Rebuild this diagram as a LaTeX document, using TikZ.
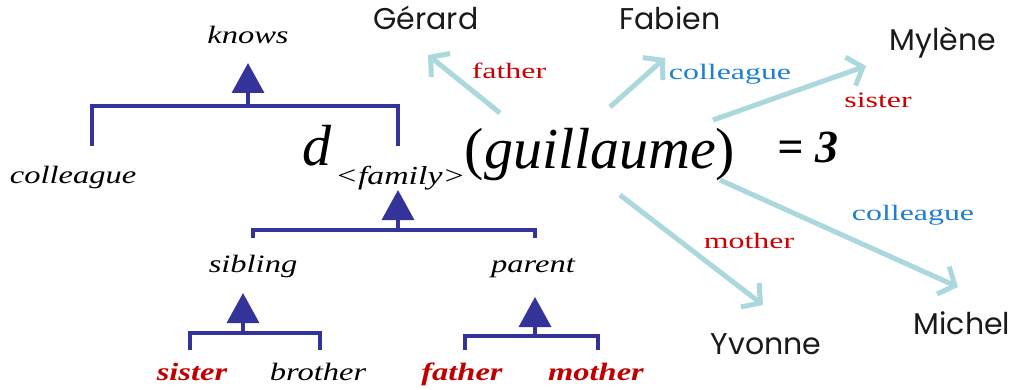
\documentclass[tikz,border=0pt]{standalone}
\usepackage{fontspec}
\usetikzlibrary{arrows.meta}
\setmainfont{Liberation Serif}
\newfontfamily\treefont[FakeStretch=1.3]{Liberation Serif}
\newfontfamily\lblfont[FakeStretch=1.45]{Liberation Serif}
\newfontfamily\namefont{Poppins}
\definecolor{treeblue}{HTML}{333399}
\definecolor{arrcyan}{HTML}{ABD8DC}
\definecolor{lblred}{HTML}{CC0000}
\definecolor{lblblue}{HTML}{1E7FD2}
\definecolor{boldred}{HTML}{C00000}
\definecolor{namegray}{HTML}{1A1A1A}
\tikzset{
  treelbl/.style={anchor=base, inner sep=0pt, font=\treefont\itshape\fontsize{25}{25}\selectfont},
  leafred/.style={anchor=base, inner sep=0pt, text=boldred, font=\treefont\bfseries\itshape\fontsize{25}{25}\selectfont},
  person/.style={anchor=base, inner sep=0pt, text=namegray, font=\namefont\fontsize{30}{30}\selectfont},
  rel/.style={anchor=base, inner sep=0pt, font=\lblfont\fontsize{22}{22}\selectfont},
  branch/.style={draw=treeblue, line width=3.5pt},
  up/.style={draw=treeblue, line width=3.5pt, -{Triangle[length=30pt,width=32pt]}},
  link/.style={draw=arrcyan, line width=5pt, -{Straight Barb[length=13pt,width=30pt,line width=5pt]}}
}
\begin{document}
\begin{tikzpicture}[x=1pt,y=-1pt]
\useasboundingbox (0,0) rectangle (1016,390);
% formula
\node[anchor=base, inner sep=0pt, font=\itshape\fontsize{58}{58}\selectfont] (d) at (317,166) {d};
\node[treelbl, anchor=base west, font=\treefont\itshape\fontsize{26}{26}\selectfont] (fam) at (335,184) {<family>};
\node[anchor=base, inner sep=0pt, font=\fontsize{58}{58}\selectfont] (guil) at (600,168) {(\textit{guillaume})};
\node[anchor=base, inner sep=0pt, font=\bfseries\itshape\fontsize{46}{46}\selectfont] (eq) at (808,163) {= 3};
% tree labels
\node[treelbl] (knows) at (248,44) {knows};
\node[treelbl] (coll) at (73,183) {colleague};
\node[treelbl] (sib) at (253,272) {sibling};
\node[treelbl] (par) at (533,272) {parent};
\node[leafred] (sister) at (192,380) {sister};
\node[treelbl] (brother) at (318,380) {brother};
\node[leafred] (father) at (462,380) {father};
\node[leafred] (mother) at (596,380) {mother};
% tree branches
\coordinate (k1) at (92,146); \coordinate (k2) at (398,146);
\draw[branch] (k1) -- (92,106) -- (398,106) -- (k2);
\draw[up] (248,106) -- (knows.south |- 0,63);
\coordinate (f1) at (253,238); \coordinate (f2) at (535,238);
\draw[branch] (f1) -- (253,230) -- (535,230) -- (f2);
\draw[up] (398,230) -- (398,190);
\coordinate (s1) at (190,350); \coordinate (s2) at (320,350);
\draw[branch] (s1) -- (190,333) -- (320,333) -- (s2);
\draw[up] (243,333) -- (243,293);
\coordinate (p1) at (465,350); \coordinate (p2) at (598,350);
\draw[branch] (p1) -- (465,336) -- (598,336) -- (p2);
\draw[up] (535,336) -- (535,297);
% people
\node[person] (gerard) at (426,30) {Gérard};
\node[person] (fabien) at (670,30) {Fabien};
\node[person] (mylene) at (943,51) {Mylène};
\node[person] (michel) at (962,334) {Michel};
\node[person] (yvonne) at (766,354) {Yvonne};
% arrows
\coordinate (a1s) at (500,113); \coordinate (a1e) at (428,55);
\coordinate (a2s) at (610,107); \coordinate (a2e) at (665,58);
\coordinate (a3s) at (713,120); \coordinate (a3e) at (866,66);
\coordinate (a4s) at (720,180); \coordinate (a4e) at (958,287);
\coordinate (a5s) at (620,195); \coordinate (a5e) at (763,305);
\draw[link] (a1s) -- (a1e);
\draw[link] (a2s) -- (a2e);
\draw[link] (a3s) -- (a3e);
\draw[link] (a4s) -- (a4e);
\draw[link] (a5s) -- (a5e);
\node[rel, text=lblred] (lfa) at (509,79) {father};
\node[rel, text=lblblue] (lco1) at (730,80) {colleague};
\node[rel, text=lblred] (lsi) at (878,108) {sister};
\node[rel, text=lblblue] (lco2) at (913,220) {colleague};
\node[rel, text=lblred] (lmo) at (749,248) {mother};
\end{tikzpicture}
\end{document}
